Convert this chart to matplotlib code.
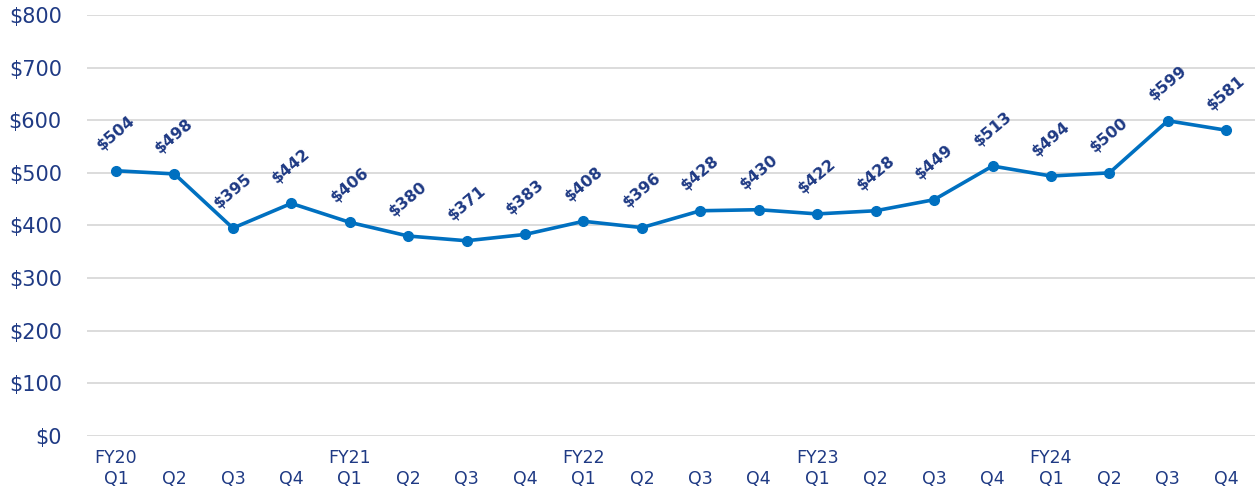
import matplotlib.pyplot as plt
from matplotlib.ticker import FuncFormatter

years = ['FY20', 'FY21', 'FY22', 'FY23', 'FY24']
quarters = ['Q1', 'Q2', 'Q3', 'Q4']
values = [504, 498, 395, 442, 406, 380, 371, 383, 408, 396,
          428, 430, 422, 428, 449, 513, 494, 500, 599, 581]

labels = []
for y in years:
    for q in quarters:
        labels.append(y + '\n' + q if q == 'Q1' else '\n' + q)

navy = '#1F3A84'
blue = '#0070C0'

fig = plt.figure(figsize=(12.58, 4.91), dpi=100)
ax = fig.add_axes([0.069, 0.112, 0.929, 0.8575])

x = list(range(len(values)))
ax.plot(x, values, color=blue, linewidth=2.6, marker='o', markersize=7, zorder=3)

for xi, v in zip(x, values):
    ax.annotate('${}'.format(v), (xi, v), xytext=(0, 27), textcoords='offset points',
                ha='center', va='center', rotation=40, fontsize=11.5,
                fontweight='bold', color=navy)

ax.set_xlim(-0.5, len(values) - 0.5)
ax.set_ylim(0, 800)
ax.set_yticks(range(0, 801, 100))
ax.yaxis.set_major_formatter(FuncFormatter(lambda v, p: '${:.0f}'.format(v)))
ax.set_xticks(x)
ax.set_xticklabels(labels, fontsize=12.5, color=navy, linespacing=1.25)
ax.tick_params(axis='y', labelsize=15, labelcolor=navy, length=0, pad=18)
ax.tick_params(axis='x', length=0, pad=9)

ax.grid(axis='y', color='#D9D9D9', linewidth=1.3)
ax.set_axisbelow(True)
for s in ax.spines.values():
    s.set_visible(False)

fig.savefig('out.png')
